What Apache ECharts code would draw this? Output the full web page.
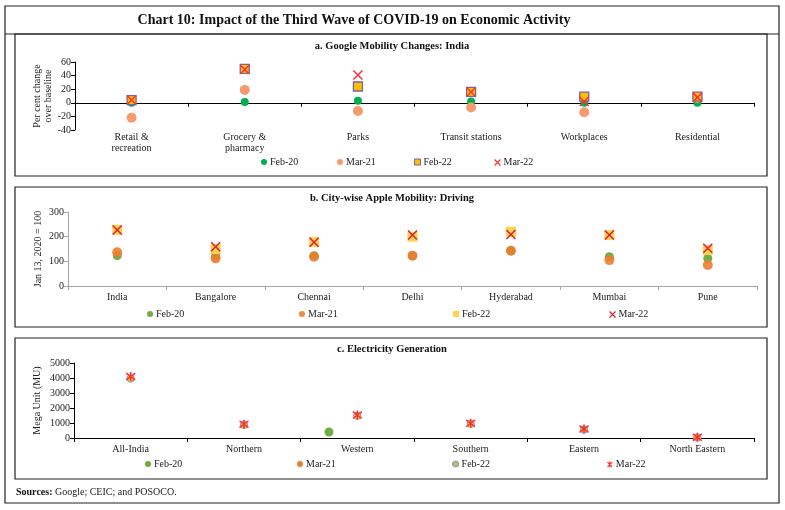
<!DOCTYPE html>
<html><head><meta charset="utf-8">
<script src="https://cdn.jsdelivr.net/npm/echarts@6/dist/echarts.min.js"></script>
<style>html,body{margin:0;padding:0;background:#fff}#c{width:785px;height:510px}</style>
</head><body><div id="c"></div>
<script>
// ---- Panel a: Google mobility (per cent change over baseline)
const googleCats = ['Retail &\nrecreation', 'Grocery &\npharmacy', 'Parks', 'Transit stations', 'Workplaces', 'Residential'];
const gFeb20 = [0, 1, 3, 2, 0, 0];
const gMar21 = [-22, 19, -12, -7, -14, 7];
const gFeb22 = [4, 50, 24, 16, 9, 9];
const gMar22 = [4, 49, 41, 16, 2, 8];

// ---- Panel b: Apple mobility, driving (Jan 13, 2020 = 100)
const appleCats = ['India', 'Bangalore', 'Chennai', 'Delhi', 'Hyderabad', 'Mumbai', 'Pune'];
const aFeb20 = [123, 122, 123, 123, 143, 119, 112];
const aMar21 = [137, 112, 119, 123, 143, 105, 85];
const aFeb22 = [228, 150, 178, 200, 220, 207, 146];
const aMar22 = [227, 159, 177, 207, 209, 207, 153];

// ---- Panel c: Electricity generation (MU)
const elecCats = ['All-India', 'Northern', 'Western', 'Southern', 'Eastern', 'North Eastern'];
const eFeb20Points = [[2.25, 400]]; // single point, plotted off-centre in the source
const eMar21 = [4000, 900, 1500, 960, 580, 40];
const eFeb22 = [3960, 880, 1480, 950, 560, 40];
const eMar22 = [4100, 920, 1530, 980, 600, 50];

const legendNames = ['Feb-20', 'Mar-21', 'Feb-22', 'Mar-22'];

const FONT = 'Liberation Serif';
const X_PATH = 'path://M0,0L10,10M10,0L0,10';
const AST_PATH = 'path://M0,0L10,10M10,0L0,10M5,-1.5L5,11.5';

const chart = echarts.init(document.getElementById('c'), null, {renderer: 'canvas'});

function yAxisCommon(extra) {
  return Object.assign({
    type: 'value', splitLine: {show: false},
    axisLine: {show: true, lineStyle: {color: '#000', width: 1}},
    axisTick: {show: true, length: 4, lineStyle: {color: '#000'}},
    axisLabel: {fontFamily: FONT, fontSize: 10, color: '#222', margin: 4, formatter: v => String(v)},
    nameLocation: 'middle', nameRotate: 90, nameMoveOverlap: false,
    nameTextStyle: {fontFamily: FONT, fontSize: 10, color: '#222', lineHeight: 11}
  }, extra);
}

function legendAt(panel, idx, left, top, icon, itemStyle) {
  return {
    left: left, top: top, padding: 0, itemWidth: 6, itemHeight: 6, itemGap: 0,
    selectedMode: false,
    formatter: n => n.split('|')[1],
    textStyle: {fontFamily: FONT, fontSize: 10, color: '#222', padding: [0, 0, 0, -2]},
    data: [{name: panel + '|' + legendNames[idx], icon: icon, itemStyle: itemStyle}]
  };
}

const option = {
  animation: false,
  textStyle: {fontFamily: FONT},
  grid: [
    {left: 75, top: 62, width: 679, height: 68},
    {left: 68, top: 212, width: 689, height: 74},
    {left: 74, top: 363, width: 680, height: 75}
  ],
  xAxis: [
    // 0: panel a labels (bottom)
    {gridIndex: 0, type: 'category', data: googleCats, position: 'bottom',
     axisLine: {show: false, onZero: false}, axisTick: {show: false},
     axisLabel: {fontFamily: FONT, fontSize: 10, color: '#222', lineHeight: 11, margin: 2, interval: 0}},
    // 1: panel a zero line
    {gridIndex: 0, type: 'category', data: googleCats, position: 'bottom',
     axisLine: {show: true, onZero: true, lineStyle: {color: '#000', width: 1}},
     axisTick: {show: true, length: 4, lineStyle: {color: '#000'}},
     axisLabel: {show: false}},
    // 2: panel b
    {gridIndex: 1, type: 'category', data: appleCats, position: 'bottom',
     axisLine: {show: true, lineStyle: {color: '#A6A6A6', width: 1}},
     axisTick: {show: true, length: 4, lineStyle: {color: '#A6A6A6'}},
     axisLabel: {fontFamily: FONT, fontSize: 10, color: '#222', margin: 6, interval: 0}},
    // 3: panel c
    {gridIndex: 2, type: 'category', data: elecCats, position: 'bottom',
     axisLine: {show: true, lineStyle: {color: '#000', width: 1}},
     axisTick: {show: true, length: 4, lineStyle: {color: '#000'}},
     axisLabel: {fontFamily: FONT, fontSize: 10, color: '#222', margin: 6, interval: 0}},
    // 4: panel c hidden numeric axis for the off-centre point
    {gridIndex: 2, type: 'value', min: 0, max: 6, show: false}
  ],
  yAxis: [
    yAxisCommon({gridIndex: 0, min: -40, max: 60, interval: 20,
      name: 'Per cent change\nover baseline', nameGap: 21}),
    yAxisCommon({gridIndex: 1, min: 0, max: 300, interval: 100,
      axisLine: {show: true, lineStyle: {color: '#A6A6A6', width: 1}},
      axisTick: {show: true, length: 4, lineStyle: {color: '#A6A6A6'}},
      name: 'Jan 13, 2020 = 100', nameGap: 24}),
    yAxisCommon({gridIndex: 2, min: 0, max: 5000, interval: 1000,
      name: 'Mega Unit (MU)', nameGap: 31})
  ],
  legend: [
    legendAt('a', 0, 261, 157, 'circle', {color: '#00B050'}),
    legendAt('a', 1, 337, 157, 'circle', {color: '#F59B6E'}),
    legendAt('a', 2, 414, 157, 'rect', {color: '#FFC000', borderColor: '#7F5FA8', borderWidth: 1}),
    legendAt('a', 3, 492, 157, X_PATH, {color: 'none', borderColor: '#FF3030', borderWidth: 1.2}),
    legendAt('b', 0, 147, 309, 'circle', {color: '#70AD47'}),
    legendAt('b', 1, 299, 309, 'circle', {color: '#ED7D31'}),
    legendAt('b', 2, 453, 309, 'rect', {color: '#FFD34F'}),
    legendAt('b', 3, 607, 309, X_PATH, {color: 'none', borderColor: '#DC1E3C', borderWidth: 1.2}),
    legendAt('c', 0, 145, 459, 'circle', {color: '#70AD47'}),
    legendAt('c', 1, 297, 459, 'circle', {color: '#ED7D31'}),
    legendAt('c', 2, 452, 459, 'circle', {color: '#C9B458', borderColor: '#8EA0D0', borderWidth: 1.2}),
    legendAt('c', 3, 605, 459, AST_PATH, {color: 'none', borderColor: '#FF3030', borderWidth: 1.2})
  ],
  series: [
    // panel a
    {name: 'a|Feb-20', type: 'scatter', xAxisIndex: 0, yAxisIndex: 0, data: gFeb20,
     symbol: 'circle', symbolSize: 8, itemStyle: {color: '#00B050', opacity: 1}},
    {name: 'a|Mar-21', type: 'scatter', xAxisIndex: 0, yAxisIndex: 0, data: gMar21,
     symbol: 'circle', symbolSize: 10, itemStyle: {color: '#F59B6E', opacity: 1}},
    {name: 'a|Feb-22', type: 'scatter', xAxisIndex: 0, yAxisIndex: 0, data: gFeb22,
     symbol: 'rect', symbolSize: 9, itemStyle: {color: '#FFC000', borderColor: '#7F5FA8', borderWidth: 1.3, opacity: 1}},
    {name: 'a|Mar-22', type: 'scatter', xAxisIndex: 0, yAxisIndex: 0, data: gMar22,
     symbol: X_PATH, symbolSize: 9, itemStyle: {color: 'none', borderColor: '#FF3030', borderWidth: 1.5, opacity: 1}},
    // panel b
    {name: 'b|Feb-20', type: 'scatter', xAxisIndex: 2, yAxisIndex: 1, data: aFeb20,
     symbol: 'circle', symbolSize: 9, itemStyle: {color: '#70AD47', opacity: 1}},
    {name: 'b|Mar-21', type: 'scatter', xAxisIndex: 2, yAxisIndex: 1, data: aMar21,
     symbol: 'circle', symbolSize: 10, itemStyle: {color: '#ED7D31', opacity: 0.9}},
    {name: 'b|Feb-22', type: 'scatter', xAxisIndex: 2, yAxisIndex: 1, data: aFeb22,
     symbol: 'rect', symbolSize: 10, itemStyle: {color: '#FFD34F', opacity: 1}},
    {name: 'b|Mar-22', type: 'scatter', xAxisIndex: 2, yAxisIndex: 1, data: aMar22,
     symbol: X_PATH, symbolSize: 9, itemStyle: {color: 'none', borderColor: '#DC1E3C', borderWidth: 1.5, opacity: 1}},
    // panel c
    {name: 'c|Feb-20', type: 'scatter', xAxisIndex: 4, yAxisIndex: 2, data: eFeb20Points,
     symbol: 'circle', symbolSize: 9, itemStyle: {color: '#70AD47', opacity: 1}},
    {name: 'c|Mar-21', type: 'scatter', xAxisIndex: 3, yAxisIndex: 2, data: eMar21,
     symbol: 'circle', symbolSize: 6, itemStyle: {color: '#ED7D31', opacity: 1}},
    {name: 'c|Feb-22', type: 'scatter', xAxisIndex: 3, yAxisIndex: 2, data: eFeb22,
     symbol: 'circle', symbolSize: 7, itemStyle: {color: '#FFC000', borderColor: '#8EA0D0', borderWidth: 1.2, opacity: 1}},
    {name: 'c|Mar-22', type: 'scatter', xAxisIndex: 3, yAxisIndex: 2, data: eMar22,
     symbol: AST_PATH, symbolSize: 9, itemStyle: {color: 'none', borderColor: '#FF3030', borderWidth: 1.5, opacity: 1}}
  ],
  graphic: [
    {type: 'rect', shape: {x: 5, y: 6, width: 774, height: 497}, style: {fill: 'none', stroke: '#222', lineWidth: 1.2}, silent: true},
    {type: 'line', shape: {x1: 5, y1: 34, x2: 779, y2: 34}, style: {stroke: '#222', lineWidth: 1.2}, silent: true},
    {type: 'text', x: 354, y: 20, style: {text: 'Chart 10: Impact of the Third Wave of COVID-19 on Economic Activity', font: 'bold 14px "Liberation Serif"', fill: '#111', align: 'center', verticalAlign: 'middle'}},
    {type: 'rect', shape: {x: 15, y: 34, width: 752, height: 142}, style: {fill: 'none', stroke: '#222', lineWidth: 1.2}, silent: true},
    {type: 'rect', shape: {x: 15, y: 187, width: 752, height: 140}, style: {fill: 'none', stroke: '#222', lineWidth: 1.2}, silent: true},
    {type: 'rect', shape: {x: 15, y: 338, width: 752, height: 141}, style: {fill: 'none', stroke: '#222', lineWidth: 1.2}, silent: true},
    {type: 'text', x: 392, y: 46, style: {text: 'a. Google Mobility Changes: India', font: 'bold 10.5px "Liberation Serif"', fill: '#111', align: 'center', verticalAlign: 'middle'}},
    {type: 'text', x: 392, y: 198, style: {text: 'b. City-wise Apple Mobility: Driving', font: 'bold 10.5px "Liberation Serif"', fill: '#111', align: 'center', verticalAlign: 'middle'}},
    {type: 'text', x: 392, y: 349, style: {text: 'c. Electricity Generation', font: 'bold 10.5px "Liberation Serif"', fill: '#111', align: 'center', verticalAlign: 'middle'}},
    {type: 'text', x: 16, y: 492, style: {
      text: '{b|Sources:} Google; CEIC; and POSOCO.',
      font: '10px "Liberation Serif"', fill: '#222', verticalAlign: 'middle',
      rich: {b: {fontWeight: 'bold', fontFamily: FONT, fontSize: 10, fill: '#111'}}}}
  ]
};
chart.setOption(option);
</script></body></html>
